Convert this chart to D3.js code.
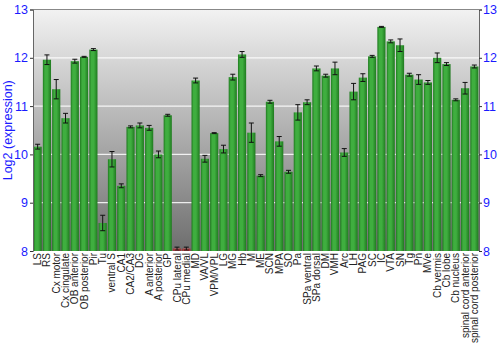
<!DOCTYPE html>
<html>
<head>
<meta charset="utf-8">
<script src="https://cdn.jsdelivr.net/npm/d3@7"></script>
<style>
  body { margin: 0; background: white; }
  svg { font-family: "Liberation Sans", Arial, sans-serif; }
</style>
</head>
<body>
<div id="chart"></div>
<script>
var regions = ["LS", "RS", "Cx motor", "Cx cingulate", "OB anterior", "OB posterior", "Pir", "Tu",
    "ventral S", "CA1", "CA2/CA3", "DG", "A anterior", "A posterior", "GP", "CPu lateral",
    "CPu medial", "MD", "VA/VL", "VPM/VPL", "LG", "MG", "Hb", "M", "ME", "SCN", "MPA", "SO",
    "Pa", "SPa ventral", "SPa dorsal", "DM", "VMH", "Arc", "LH", "PAG", "SC", "IC", "VTA",
    "SN", "Tg", "Pn", "MVe", "Cb vermis", "Cb lobe", "Cb nucleus", "spinal cord anterior",
    "spinal cord posterior"];
var values = [10.16, 11.96, 11.35, 10.75, 11.93, 12.02, 12.17, 8.58,
    9.90, 9.35, 10.57, 10.60, 10.55, 10.00, 10.81, 8.05,
    8.05, 11.53, 9.91, 10.44, 10.11, 11.60, 12.07, 10.45, 9.56, 11.09, 10.27, 9.64,
    10.87, 11.08, 11.78, 11.63, 11.78, 10.04, 11.30, 11.59, 12.03, 12.64, 12.34,
    12.26, 11.65, 11.55, 11.49, 12.00, 11.87, 11.13, 11.37,
    11.82];
var errors = [0.05, 0.10, 0.20, 0.10, 0.04, 0.01, 0.02, 0.16,
    0.16, 0.04, 0.02, 0.05, 0.05, 0.07, 0.02, 0.03,
    0.03, 0.05, 0.07, 0.01, 0.08, 0.06, 0.06, 0.20, 0.02, 0.03, 0.10, 0.03,
    0.16, 0.05, 0.05, 0.03, 0.13, 0.08, 0.17, 0.08, 0.02, 0.01, 0.03,
    0.13, 0.03, 0.10, 0.04, 0.10, 0.03, 0.02, 0.12,
    0.03];
var lowRegions = ["CPu lateral", "CPu medial"];
var yTicks = [8, 9, 10, 11, 12, 13];

var margin = {top: 9.5, right: 21, bottom: 99, left: 33};
var width = 500 - margin.left - margin.right;
var height = 350 - margin.top - margin.bottom;

var root = d3.select("#chart")
    .append("svg")
        .attr("width", 500)
        .attr("height", 350);

var defs = root.append("defs");
var bg = defs.append("linearGradient")
    .attr("id", "bg")
    .attr("x1", 0).attr("y1", 0).attr("x2", 0).attr("y2", 1);
bg.append("stop").attr("offset", "0%").attr("stop-color", "#f2f2f2");
bg.append("stop").attr("offset", "100%").attr("stop-color", "#6e6e6e");

var makeBarGradient = function(id, dark, light) {
    var g = defs.append("linearGradient")
        .attr("id", id)
        .attr("x1", 0).attr("y1", 0).attr("x2", 1).attr("y2", 0);
    g.append("stop").attr("offset", "0%").attr("stop-color", dark);
    g.append("stop").attr("offset", "25%").attr("stop-color", light);
    g.append("stop").attr("offset", "55%").attr("stop-color", light);
    g.append("stop").attr("offset", "100%").attr("stop-color", dark);
};
makeBarGradient("greenBar", "#1f7a1f", "#3fae3f");
makeBarGradient("redBar", "#9a2a2a", "#d05050");

var svg = root.append("g")
    .attr("transform", "translate(" + margin.left + "," + margin.top + ")");

var x = d3.scaleBand().domain(regions).range([0, width]).paddingInner(0.12).paddingOuter(0.06);
var y = d3.scaleLinear().domain([8, 13]).range([height, 0]);

svg.append("rect")
    .attr("width", width)
    .attr("height", height)
    .style("fill", "url(#bg)");

svg.selectAll("line.grid")
    .data(yTicks.slice(1, -1))
    .enter()
    .append("line")
    .attr("class", "grid")
    .attr("x1", 0)
    .attr("x2", width)
    .attr("y1", function(d) { return y(d); })
    .attr("y2", function(d) { return y(d); })
    .style("stroke", "white")
    .style("stroke-opacity", 0.85)
    .style("stroke-width", 1.2);

var data = regions.map(function(r, i) {
    return {region: r, value: values[i], err: errors[i]};
});

svg.selectAll("rect.bar")
    .data(data)
    .enter()
    .append("rect")
    .attr("class", "bar")
    .attr("x", function(d) { return x(d.region); })
    .attr("y", function(d) { return y(d.value); })
    .attr("width", x.bandwidth())
    .attr("height", function(d) { return height - y(d.value); })
    .style("fill", function(d) {
        return lowRegions.indexOf(d.region) >= 0 ? "url(#redBar)" : "url(#greenBar)";
    });

var errG = svg.selectAll("g.err")
    .data(data)
    .enter()
    .append("g")
    .attr("class", "err")
    .style("stroke", "#111")
    .style("stroke-width", 1);
errG.append("line")
    .attr("x1", function(d) { return x(d.region) + x.bandwidth() / 2; })
    .attr("x2", function(d) { return x(d.region) + x.bandwidth() / 2; })
    .attr("y1", function(d) { return y(d.value - d.err); })
    .attr("y2", function(d) { return y(d.value + d.err); });
errG.selectAll("line.cap")
    .data(function(d) { return [d.value - d.err, d.value + d.err].map(function(v) { return {region: d.region, v: v}; }); })
    .enter()
    .append("line")
    .attr("class", "cap")
    .attr("x1", function(d) { return x(d.region) + x.bandwidth() / 2 - 2.5; })
    .attr("x2", function(d) { return x(d.region) + x.bandwidth() / 2 + 2.5; })
    .attr("y1", function(d) { return y(d.v); })
    .attr("y2", function(d) { return y(d.v); });

// top border
svg.append("line")
    .attr("x1", 0).attr("x2", width)
    .attr("y1", 0).attr("y2", 0)
    .style("stroke", "#888");

var leftAxis = svg.append("g")
    .call(d3.axisLeft(y).tickValues(yTicks).tickSize(3).tickFormat(d3.format("d")));
var rightAxis = svg.append("g")
    .attr("transform", "translate(" + width + ",0)")
    .call(d3.axisRight(y).tickValues(yTicks).tickSize(3).tickFormat(d3.format("d")));
[leftAxis, rightAxis].forEach(function(a) {
    a.select(".domain").style("stroke", "#666");
    a.selectAll(".tick line").style("stroke", "#333");
    a.selectAll(".tick text")
        .style("fill", "#1a1aff")
        .style("font-size", "12.5px")
        .style("font-family", "Liberation Sans, Arial, sans-serif");
});
leftAxis.selectAll(".tick text").attr("x", -5);
rightAxis.selectAll(".tick text").attr("x", 4);

var xAxis = svg.append("g")
    .attr("transform", "translate(0," + height + ")")
    .call(d3.axisBottom(x).tickSize(0));
xAxis.select(".domain").remove();
xAxis.selectAll(".tick text")
    .attr("transform", "rotate(-90)")
    .attr("x", -2)
    .attr("y", 0)
    .attr("dy", "0.35em")
    .style("text-anchor", "end")
    .style("fill", "#222")
    .style("font-size", "10px")
    .style("font-family", "Liberation Sans, Arial, sans-serif");

svg.append("text")
    .attr("transform", "rotate(-90)")
    .attr("x", -height / 2)
    .attr("y", -margin.left + 12)
    .style("text-anchor", "middle")
    .style("fill", "#1a1aff")
    .style("font-size", "12.5px")
    .text("Log2 (expression)");
</script>
</body>
</html>
